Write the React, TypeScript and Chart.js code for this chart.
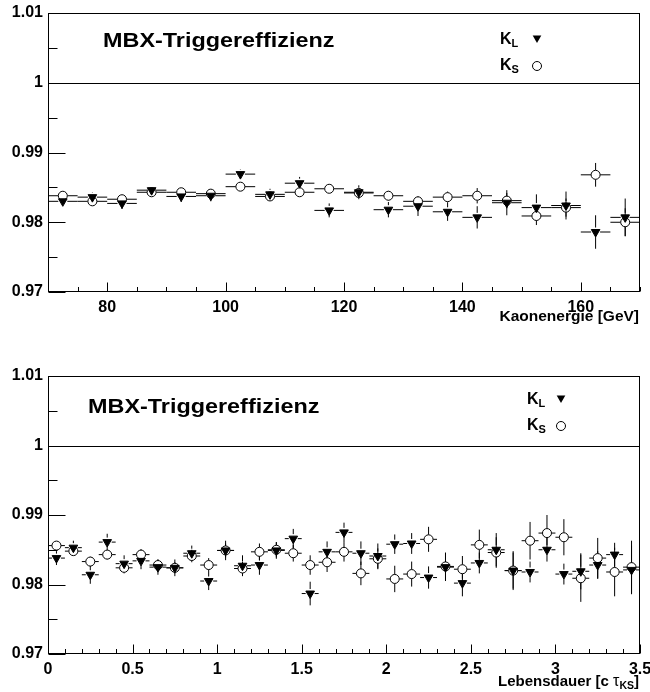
import React, { useEffect, useRef } from "react";
import { Chart, registerables } from "chart.js";
Chart.register(...registerables);

// ---------- data ----------
const energyBins = [72.5, 77.5, 82.5, 87.5, 92.5, 97.5, 102.5, 107.5, 112.5, 117.5, 122.5, 127.5, 132.5, 137.5, 142.5, 147.5, 152.5, 157.5, 162.5, 167.5];
const energyKL = [0.983, 0.9836, 0.9827, 0.9846, 0.9837, 0.9838, 0.9869, 0.984, 0.9856, 0.9817, 0.9843, 0.9818, 0.9823, 0.9815, 0.9807, 0.9828, 0.9821, 0.9824, 0.9786, 0.9807];
const energyKLErr = [0.0006, 0.0007, 0.0008, 0.0006, 0.0008, 0.0008, 0.0007, 0.0008, 0.0009, 0.001, 0.001, 0.0011, 0.0014, 0.0013, 0.0016, 0.0018, 0.0019, 0.002, 0.0024, 0.0027];
const energyKS = [0.9838, 0.983, 0.9833, 0.9843, 0.9843, 0.9841, 0.9851, 0.9837, 0.9843, 0.9848, 0.9842, 0.9838, 0.983, 0.9836, 0.9838, 0.9831, 0.9809, 0.9821, 0.9868, 0.98];
const energyKSErr = [0.0005, 0.0004, 0.0004, 0.0004, 0.0004, 0.0004, 0.0005, 0.0005, 0.0005, 0.0006, 0.0006, 0.0007, 0.0007, 0.0008, 0.0011, 0.0011, 0.0013, 0.0013, 0.0017, 0.002];

const lifeBins = [0.05, 0.15, 0.25, 0.35, 0.45, 0.55, 0.65, 0.75, 0.85, 0.95, 1.05, 1.15, 1.25, 1.35, 1.45, 1.55, 1.65, 1.75, 1.85, 1.95, 2.05, 2.15, 2.25, 2.35, 2.45, 2.55, 2.65, 2.75, 2.85, 2.95, 3.05, 3.15, 3.25, 3.35, 3.45];
const lifeKL = [0.9838, 0.9853, 0.9814, 0.9861, 0.983, 0.9834, 0.9825, 0.9824, 0.9845, 0.9805, 0.9849, 0.9827, 0.9828, 0.9849, 0.9866, 0.9787, 0.9847, 0.9875, 0.9845, 0.9841, 0.9858, 0.9859, 0.981, 0.9825, 0.9802, 0.9831, 0.985, 0.982, 0.9818, 0.985, 0.9815, 0.9819, 0.9828, 0.9843, 0.9821];
const lifeKLErr = [0.001, 0.001, 0.0013, 0.0012, 0.0012, 0.0012, 0.0011, 0.0012, 0.0011, 0.0013, 0.0014, 0.0015, 0.0014, 0.0012, 0.0014, 0.0017, 0.0015, 0.0014, 0.0017, 0.0018, 0.0014, 0.0015, 0.0016, 0.002, 0.0019, 0.0015, 0.0024, 0.0026, 0.0015, 0.0017, 0.0015, 0.0026, 0.002, 0.0017, 0.0035];
const lifeKS = [0.9856, 0.9848, 0.9833, 0.9843, 0.9824, 0.9843, 0.9828, 0.9824, 0.9841, 0.9828, 0.9849, 0.9823, 0.9847, 0.985, 0.9845, 0.9828, 0.9832, 0.9847, 0.9816, 0.9837, 0.9808, 0.9815, 0.9865, 0.9826, 0.9822, 0.9857, 0.9846, 0.982, 0.9863, 0.9874, 0.9868, 0.9809, 0.9838, 0.9818, 0.9825];
const lifeKSErr = [0.0006, 0.0006, 0.0007, 0.0007, 0.0008, 0.0008, 0.0008, 0.0008, 0.0009, 0.001, 0.001, 0.001, 0.0012, 0.0011, 0.0012, 0.0014, 0.0014, 0.0014, 0.0017, 0.0015, 0.0019, 0.0018, 0.0018, 0.002, 0.0019, 0.0022, 0.0022, 0.0028, 0.0027, 0.0026, 0.0026, 0.0034, 0.0029, 0.0035, 0.0038];

const yTickValues = [0.97, 0.98, 0.99, 1.0, 1.01];
const yTickLabels = ["0.97", "0.98", "0.99", "1", "1.01"];
const energyTickValues = [80, 100, 120, 140, 160];
const energyTickLabels = ["80", "100", "120", "140", "160"];
const lifeTickValues = [0, 0.5, 1, 1.5, 2, 2.5, 3, 3.5];
const lifeTickLabels = ["0", "0.5", "1", "1.5", "2", "2.5", "3", "3.5"];

const plotTitle = "MBX-Triggereffizienz";
const FONT = "'Liberation Sans', Arial, sans-serif";

type Seg = { t: string; size: number; bold?: boolean; dy?: number; family?: string };

function segFont(s: Seg) {
  return `${s.bold === false ? "normal" : "bold"} ${s.size}px ${s.family || FONT}`;
}
function drawSegs(ctx: CanvasRenderingContext2D, segs: Seg[], x: number, y: number, align: "left" | "right") {
  let total = 0;
  segs.forEach((s) => {
    ctx.font = segFont(s);
    total += ctx.measureText(s.t).width;
  });
  let cx = align === "right" ? x - total : x;
  ctx.textAlign = "left";
  ctx.textBaseline = "alphabetic";
  segs.forEach((s) => {
    ctx.font = segFont(s);
    ctx.fillText(s.t, cx, y + (s.dy || 0));
    cx += ctx.measureText(s.t).width;
  });
}

function drawTriangle(ctx: CanvasRenderingContext2D, x: number, y: number, r: number) {
  ctx.beginPath();
  ctx.moveTo(x, y + r);
  ctx.lineTo(x - r * 0.866, y - r * 0.5);
  ctx.lineTo(x + r * 0.866, y - r * 0.5);
  ctx.closePath();
  ctx.fillStyle = "#000";
  ctx.fill();
}
function drawCircle(ctx: CanvasRenderingContext2D, x: number, y: number, r: number) {
  ctx.beginPath();
  ctx.arc(x, y, r, 0, Math.PI * 2);
  ctx.fillStyle = "#fff";
  ctx.fill();
  ctx.strokeStyle = "#000";
  ctx.lineWidth = 1;
  ctx.stroke();
}

type PanelCfg = {
  xMin: number;
  xMax: number;
  xStep: number;
  xMajors: number[];
  xLabels: string[];
  bins: number[];
  half: number;
  kl: number[];
  klErr: number[];
  ks: number[];
  ksErr: number[];
  height: number;
  padTop: number;
  padBottom: number;
  axisTitle: Seg[];
  axisTitleDy: number;
  titleX: number;
  titleY: number;
  legX: number;
  legY: number;
  legMarkX: number;
};

function findLabel(v: number, vals: number[], labels: string[]) {
  for (let i = 0; i < vals.length; i++) if (Math.abs(vals[i] - v) < 1e-9) return labels[i];
  return "";
}

function makeTicks(min: number, max: number, step: number) {
  const out: { value: number }[] = [];
  const n = Math.round((max - min) / step);
  for (let i = 0; i <= n; i++) out.push({ value: +(min + i * step).toFixed(6) });
  return out;
}

function Panel({ cfg }: { cfg: PanelCfg }) {
  const ref = useRef<HTMLCanvasElement | null>(null);
  useEffect(() => {
    const canvas = ref.current!;
    const errPlugin = {
      id: "errbars",
      beforeDatasetsDraw(chart: any) {
        const ctx = chart.ctx;
        const xs = chart.scales.x;
        const ys = chart.scales.y;
        ctx.save();
        ctx.strokeStyle = "#000";
        ctx.lineWidth = 1;
        chart.data.datasets.forEach((ds: any) => {
          const gap = 4.5;
          ds.data.forEach((p: any, i: number) => {
            const px = xs.getPixelForValue(p.x);
            const py = ys.getPixelForValue(p.y);
            const pl = xs.getPixelForValue(p.x - ds.half);
            const pr = xs.getPixelForValue(p.x + ds.half);
            const pt = ys.getPixelForValue(p.y + ds.errY[i]);
            const pb = ys.getPixelForValue(p.y - ds.errY[i]);
            ctx.beginPath();
            ctx.moveTo(pl, py);
            ctx.lineTo(px - gap, py);
            ctx.moveTo(px + gap, py);
            ctx.lineTo(pr, py);
            if (py - pt > gap) {
              ctx.moveTo(px, pt);
              ctx.lineTo(px, py - gap);
              ctx.moveTo(px, py + gap);
              ctx.lineTo(px, pb);
            }
            ctx.stroke();
          });
        });
        ctx.restore();
      },
      afterDraw(chart: any) {
        const ctx = chart.ctx;
        const a = chart.chartArea;
        const xs = chart.scales.x;
        const ys = chart.scales.y;
        ctx.save();
        ctx.strokeStyle = "#000";
        ctx.lineWidth = 1;
        const L = Math.round(a.left) + 0.5;
        const R = Math.round(a.right) - 0.5;
        const T = Math.round(a.top) + 0.5;
        const B = Math.round(a.bottom) - 0.5;
        ctx.strokeRect(L, T, R - L, B - T);
        // line at 1
        const y1 = Math.round(ys.getPixelForValue(1)) + 0.5;
        ctx.beginPath();
        ctx.moveTo(L, y1);
        ctx.lineTo(R, y1);
        ctx.stroke();
        // ticks drawn inward
        ctx.beginPath();
        ys.ticks.forEach((t: any) => {
          const p = Math.round(ys.getPixelForValue(t.value)) + 0.5;
          const major = findLabel(t.value, yTickValues, yTickLabels) !== "";
          ctx.moveTo(L, p);
          ctx.lineTo(L + (major ? 17 : 9), p);
        });
        xs.ticks.forEach((t: any) => {
          const p = Math.round(xs.getPixelForValue(t.value)) + 0.5;
          const major = findLabel(t.value, cfg.xMajors, cfg.xLabels) !== "";
          ctx.moveTo(p, B);
          ctx.lineTo(p, B - (major ? 9 : 4.5));
        });
        ctx.stroke();
        ctx.fillStyle = "#000";
        // axis title
        drawSegs(ctx, cfg.axisTitle, a.right - 1, a.bottom + cfg.axisTitleDy, "right");
        // plot title, horizontally stretched
        ctx.save();
        ctx.translate(cfg.titleX, cfg.titleY);
        ctx.scale(1.2, 1);
        drawSegs(ctx, [{ t: plotTitle, size: 19.5 }], 0, 0, "left");
        ctx.restore();
        // legend
        ctx.fillStyle = "#000";
        drawSegs(ctx, [{ t: "K", size: 16 }, { t: "L", size: 11, dy: 3 }], cfg.legX, cfg.legY, "left");
        drawTriangle(ctx, cfg.legMarkX, cfg.legY - 6, 5);
        ctx.fillStyle = "#000";
        drawSegs(ctx, [{ t: "K", size: 16 }, { t: "S", size: 11, dy: 3 }], cfg.legX, cfg.legY + 26, "left");
        drawCircle(ctx, cfg.legMarkX, cfg.legY + 22, 4.5);
        ctx.restore();
      },
    };

    const chart = new Chart(canvas, {
      type: "scatter",
      data: {
        datasets: [
          {
            label: "K_L",
            data: cfg.bins.map((x, i) => ({ x, y: cfg.kl[i] })),
            errY: cfg.klErr,
            half: cfg.half,
            pointStyle: "triangle",
            rotation: 180,
            radius: 5,
            backgroundColor: "#000",
            borderColor: "#000",
            borderWidth: 1,
            order: 0,
          } as any,
          {
            label: "K_S",
            data: cfg.bins.map((x, i) => ({ x, y: cfg.ks[i] })),
            errY: cfg.ksErr,
            half: cfg.half,
            pointStyle: "circle",
            radius: 4.5,
            backgroundColor: "#fff",
            borderColor: "#000",
            borderWidth: 1,
            order: 1,
          } as any,
        ],
      },
      options: {
        responsive: false,
        animation: false,
        events: [],
        devicePixelRatio: 1,
        layout: { padding: { top: cfg.padTop, right: 10, left: 0, bottom: cfg.padBottom } },
        plugins: { legend: { display: false }, tooltip: { enabled: false } },
        scales: {
          x: {
            type: "linear",
            min: cfg.xMin,
            max: cfg.xMax,
            afterBuildTicks: (s: any) => {
              s.ticks = makeTicks(cfg.xMin, cfg.xMax, cfg.xStep);
            },
            ticks: {
              autoSkip: false,
              maxRotation: 0,
              padding: 6,
              color: "#000",
              font: { family: FONT, weight: "bold", size: 16 },
              callback: (v: any) => findLabel(Number(v), cfg.xMajors, cfg.xLabels),
            },
            grid: { display: false, drawTicks: false },
            border: { display: false },
            afterFit: (s: any) => {
              s.height = 34;
              s.paddingLeft = 0;
              s.paddingRight = 0;
            },
          },
          y: {
            type: "linear",
            min: 0.97,
            max: 1.01,
            afterBuildTicks: (s: any) => {
              s.ticks = makeTicks(0.97, 1.01, 0.005);
            },
            ticks: {
              autoSkip: false,
              padding: 5,
              color: "#000",
              font: { family: FONT, weight: "bold", size: 16 },
              callback: (v: any) => findLabel(Number(v), yTickValues, yTickLabels),
            },
            grid: { display: false, drawTicks: false },
            border: { display: false },
            afterFit: (s: any) => {
              s.width = 48;
              s.paddingTop = 0;
              s.paddingBottom = 0;
            },
          },
        },
      } as any,
      plugins: [errPlugin],
    });
    return () => chart.destroy();
  }, [cfg]);
  return <canvas ref={ref} width={650} height={cfg.height} style={{ display: "block", width: 650, height: cfg.height }} />;
}

const topCfg: PanelCfg = {
  xMin: 70,
  xMax: 170,
  xStep: 5,
  xMajors: energyTickValues,
  xLabels: energyTickLabels,
  bins: energyBins,
  half: 2.5,
  kl: energyKL,
  klErr: energyKLErr,
  ks: energyKS,
  ksErr: energyKSErr,
  height: 346,
  padTop: 13,
  padBottom: 20,
  axisTitle: [{ t: "Kaonenergie [GeV]", size: 15.5 }],
  axisTitleDy: 29,
  titleX: 103,
  titleY: 47,
  legX: 500,
  legY: 44,
  legMarkX: 537,
};

const bottomCfg: PanelCfg = {
  xMin: 0,
  xMax: 3.5,
  xStep: 0.1,
  xMajors: lifeTickValues,
  xLabels: lifeTickLabels,
  bins: lifeBins,
  half: 0.05,
  kl: lifeKL,
  klErr: lifeKLErr,
  ks: lifeKS,
  ksErr: lifeKSErr,
  height: 346,
  padTop: 30,
  padBottom: 4,
  axisTitle: [
    { t: "Lebensdauer [c ", size: 15 },
    { t: "τ", size: 16, bold: false },
    { t: "KS", size: 10.5, dy: 3 },
    { t: "]", size: 15 },
  ],
  axisTitleDy: 32,
  titleX: 88,
  titleY: 67,
  legX: 527,
  legY: 58,
  legMarkX: 561,
};

export default function App() {
  return (
    <div style={{ position: "absolute", left: 0, top: 0, width: 650, height: 692, background: "#fff" }}>
      <Panel cfg={topCfg} />
      <Panel cfg={bottomCfg} />
    </div>
  );
}
